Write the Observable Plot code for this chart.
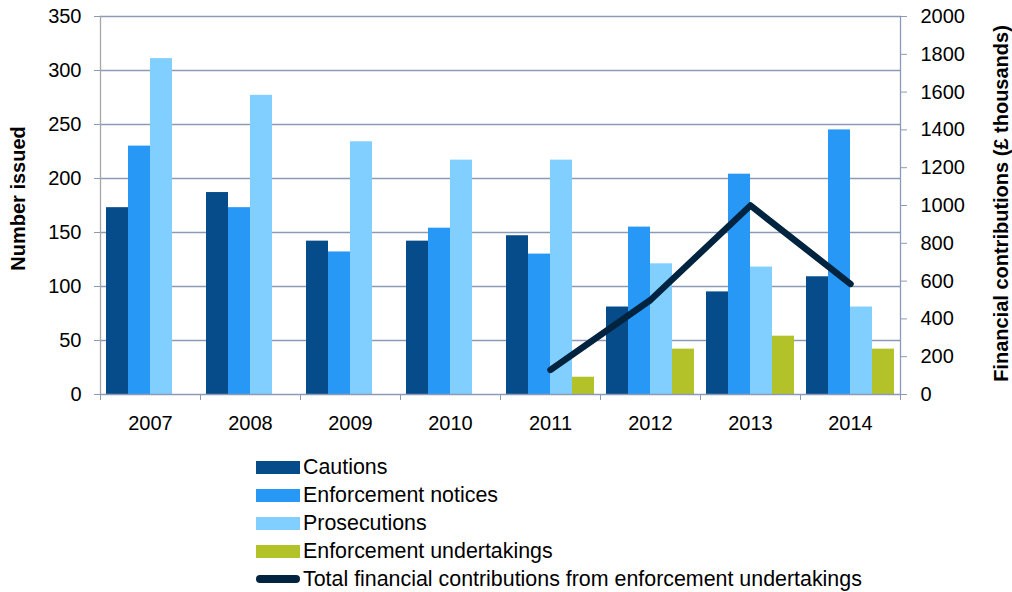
<!DOCTYPE html>
<html>
<head>
<meta charset="utf-8">
<script src="https://cdn.jsdelivr.net/npm/d3@7"></script>
<script src="https://cdn.jsdelivr.net/npm/@observablehq/plot@0.6"></script>
<style>
  html, body { margin: 0; padding: 0; background: #fff; }
  body { width: 1012px; height: 592px; overflow: hidden; font-family: "Liberation Sans", Arial, sans-serif; }
  #legend { position: relative; padding-top: 13px; padding-left: 256px; }
  .item { height: 28px; display: flex; align-items: center; font-size: 21.4px; color: #000; }
  .sw { width: 44px; height: 13px; margin-right: 3px; flex: none; }
  .sw.line { height: 8px; border-radius: 4px; }
</style>
</head>
<body>
<div id="chart"></div>
<div id="legend"></div>
<script>
const years = ["2007", "2008", "2009", "2010", "2011", "2012", "2013", "2014"];
const cautions = [173, 187, 142, 142, 147, 81, 95, 109];
const enforcementNotices = [230, 173, 132, 154, 130, 155, 204, 245];
const prosecutions = [311, 277, 234, 217, 217, 121, 118, 81];
const enforcementUndertakings = [null, null, null, null, 16, 42, 54, 42];
const financialContributions = [null, null, null, null, 130, 500, 1000, 585];
const leftTicks = [0, 50, 100, 150, 200, 250, 300, 350];
const rightTicks = [0, 200, 400, 600, 800, 1000, 1200, 1400, 1600, 1800, 2000];
const seriesNames = ["Cautions", "Enforcement notices", "Prosecutions", "Enforcement undertakings"];
const lineName = "Total financial contributions from enforcement undertakings";
const colors = ["#064C8A", "#2898F6", "#80CFFF", "#B3C229"];
const lineColor = "#00233F";
const gridColor = "#8C9AB8";

const seriesValues = [cautions, enforcementNotices, prosecutions, enforcementUndertakings];
const rows = seriesValues.map((vals, i) =>
  years.map((year, j) => ({year, series: seriesNames[i], value: vals[j]})).filter(d => d.value != null)
);
const lineRows = years.map((year, j) => ({year, value: financialContributions[j]})).filter(d => d.value != null);

const W = 1012, H = 440, mL = 100, mR = 112, mT = 16, mB = 46;
const step = (W - mL - mR) / years.length;
const pad = 0.06 * step, bw = 0.22 * step;
const k = 350 / 2000; // right axis -> left axis units

const font = "'Liberation Sans', Arial, sans-serif";

const chart = Plot.plot({
  width: W, height: H,
  marginLeft: mL, marginRight: mR, marginTop: mT, marginBottom: mB,
  style: {fontFamily: font, fontSize: "20px", color: "#000", background: "#fff", overflow: "visible"},
  x: {domain: years, padding: 0, axis: null},
  y: {domain: [0, 350], axis: null},
  marks: [
    Plot.ruleY(leftTicks.filter(d => d > 0), {stroke: gridColor, strokeWidth: 1.3}),
    ...rows.map((data, i) => Plot.barY(data, {
      x: "year", y: "value", fill: colors[i],
      insetLeft: pad + i * bw, insetRight: step - pad - (i + 1) * bw
    })),
    Plot.line(lineRows, {x: "year", y: d => d.value * k, stroke: lineColor, strokeWidth: 6.5,
      strokeLinecap: "round", strokeLinejoin: "round"}),
    Plot.frame({anchor: "left", stroke: "#A6A6A6", strokeWidth: 1.3}),
    Plot.frame({anchor: "right", stroke: gridColor, strokeWidth: 1.3}),
    Plot.frame({anchor: "bottom", stroke: gridColor, strokeWidth: 1.3}),
    Plot.axisY(leftTicks, {anchor: "left", tickSize: 6, tickPadding: 13, stroke: gridColor, label: null,
      fontSize: 20}),
    Plot.axisY(rightTicks.map(v => v * k), {anchor: "right", tickSize: 6, tickPadding: 14, stroke: gridColor,
      label: null, fontSize: 20, tickFormat: d => String(Math.round(d / k))}),
    Plot.axisX(years, {anchor: "bottom", tickSize: 6, stroke: gridColor, dx: -step / 2, tickFormat: () => "", label: null}),
    Plot.axisX([years[years.length - 1]], {anchor: "bottom", tickSize: 6, stroke: gridColor, dx: step / 2, tickFormat: () => "", label: null}),
    Plot.axisX(years, {anchor: "bottom", tickSize: 0, tickPadding: 21, label: null, fontSize: 20}),
    Plot.text(["Number issued"], {frameAnchor: "left", textAnchor: "middle", rotate: -90, dx: -82, dy: -7,
      fontWeight: "bold", fontSize: 20, fill: "#000"}),
    Plot.text(["Financial contributions (£ thousands)"], {frameAnchor: "right", textAnchor: "middle", rotate: -90, dx: 101, dy: -2,
      fontWeight: "bold", fontSize: 20, fill: "#000"})
  ]
});
document.getElementById("chart").appendChild(chart);

const legend = document.getElementById("legend");
seriesNames.forEach((name, i) => {
  const item = document.createElement("div");
  item.className = "item";
  item.innerHTML = `<span class="sw" style="background:${colors[i]}"></span><span>${name}</span>`;
  legend.appendChild(item);
});
const li = document.createElement("div");
li.className = "item";
li.innerHTML = `<span class="sw line" style="background:${lineColor}"></span><span>${lineName}</span>`;
legend.appendChild(li);
</script>
</body>
</html>
